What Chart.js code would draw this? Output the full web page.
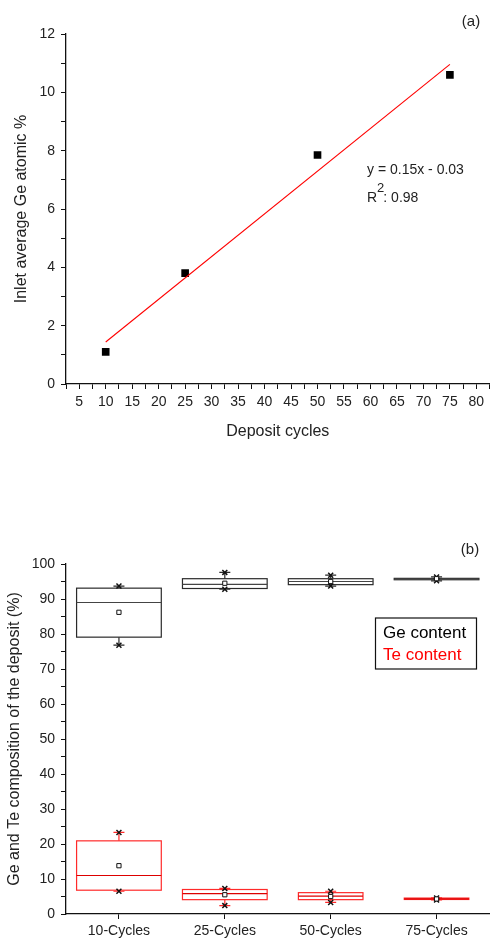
<!DOCTYPE html>
<html>
<head>
<meta charset="utf-8">
<script src="https://cdn.jsdelivr.net/npm/chart.js@4.4.1/dist/chart.umd.min.js"></script>
<style>
html,body{margin:0;padding:0;background:#fff;width:493px;height:941px;overflow:hidden;}
.wrap{position:absolute;left:0;width:495px;}
#wa{top:0;height:450px;}
#wb{top:470px;height:471px;}
</style>
</head>
<body>
<div class="wrap" id="wa"><canvas id="cA" width="495" height="450"></canvas></div>
<div class="wrap" id="wb"><canvas id="cB" width="495" height="471"></canvas></div>
<script>
/* ── data: panel (a) ── */
const cycles=[10,25,50,75];
const geAtomic=[1.1,3.8,7.85,10.6];
const fitX=[10,75];
const fitY=[1.44,10.96];
const fitEq='y = 0.15x - 0.03';
const fitR2='0.98';

/* ── data: panel (b) ── */
const cats=['10-Cycles','25-Cycles','50-Cycles','75-Cycles'];
const geQ1=[79.1,93.0,94.1,95.5];
const geQ3=[93.1,95.8,95.8,95.9];
const geMed=[89.0,94.2,95.0,95.7];
const geMean=[86.2,94.5,95.0,95.8];
const geMin=[76.8,92.8,93.7,95.2];
const geMax=[93.7,97.6,96.8,96.3];
const teQ1=[6.8,4.1,4.1,4.15];
const teQ3=[20.9,7.0,6.1,4.55];
const teMed=[11.0,5.8,5.1,4.35];
const teMean=[13.8,5.5,5.0,4.3];
const teMin=[6.5,2.4,3.3,4.0];
const teMax=[23.3,7.3,6.5,4.6];

const FONT="'Liberation Sans',Arial,sans-serif";
const ink='#222';
Chart.defaults.font.family=FONT;
Chart.defaults.color=ink;
Chart.defaults.animation=false;

function yAxis(min,max,step,every,titleTxt,titlePad){
  return {min,max,border:{color:'#111',width:1.3},
    grid:{drawOnChartArea:false,tickLength:5,color:'#111',tickWidth:1},
    ticks:{stepSize:step,autoSkip:false,padding:6,font:{size:14},color:ink,
      callback:v=>(Math.abs(v%every)<1e-9?v:'')},
    title:{display:true,text:titleTxt,font:{size:16},color:ink,padding:{top:titlePad,bottom:0}},
    afterFit:s=>{s.width=66;}};
}

/* ── (a) linear fit of Ge atomic % ── */
const textA={id:'textA',afterDraw(c){
  const ctx=c.ctx;ctx.save();ctx.fillStyle=ink;ctx.textBaseline='middle';
  ctx.font='15px '+FONT;ctx.textAlign='center';ctx.fillText('(a)',471,22);
  ctx.font='14px '+FONT;ctx.textAlign='left';
  ctx.fillText(fitEq,367,170);
  ctx.fillText('R',367,198);
  const rw=ctx.measureText('R').width;
  ctx.font='13px '+FONT;ctx.fillText('2',367+rw,188);
  const tw=ctx.measureText('2').width;
  ctx.font='14px '+FONT;ctx.fillText(': '+fitR2,367+rw+tw-1,198);
  ctx.restore();
}};
new Chart(document.getElementById('cA'),{
  type:'scatter',
  data:{datasets:[
    {label:'fit',data:fitX.map((x,i)=>({x,y:fitY[i]})),showLine:true,borderColor:'#ff0000',borderWidth:1.1,pointRadius:0},
    {label:'Ge',data:cycles.map((x,i)=>({x,y:geAtomic[i]})),pointStyle:'rect',pointRadius:5.4,backgroundColor:'#000',borderColor:'#000',borderWidth:0}
  ]},
  options:{responsive:false,layout:{padding:{top:34,right:0,left:0,bottom:0}},
    plugins:{legend:{display:false},tooltip:{enabled:false}},
    scales:{
      x:{type:'linear',min:2.5,max:82.5,border:{color:'#111',width:1.3},
        grid:{drawOnChartArea:false,tickLength:5,color:'#111'},
        ticks:{stepSize:2.5,autoSkip:false,maxRotation:0,padding:5,font:{size:14},color:ink,
          callback:v=>(Math.abs(v%5)<1e-9?v:'')},
        title:{display:true,text:'Deposit cycles',font:{size:16},color:ink,padding:{top:0,bottom:9}},
        afterFit:s=>{s.height=66;}},
      y:yAxis(0,12,1,2,'Inlet average Ge atomic %',12)
    }},
  plugins:[textA]
});

/* ── (b) box plots of Ge / Te content ── */
const boxSeries=[
  {q1:geQ1,q3:geQ3,med:geMed,lo:geMin,hi:geMax,col:'#2a2a2a',medCol:'#444',w:[.8,.8,.8,.8]},
  {q1:teQ1,q3:teQ3,med:teMed,lo:teMin,hi:teMax,col:'#ff2a2a',medCol:'#dd0000',w:[.8,.8,.61,.61]}
];
const boxes={id:'boxes',beforeDatasetsDraw(c){
  const {ctx,scales:{x,y}}=c;
  const cw=x.getPixelForValue(1)-x.getPixelForValue(0);
  ctx.save();ctx.lineWidth=1.2;
  boxSeries.forEach(s=>{
    cats.forEach((_,i)=>{
      const cx=x.getPixelForValue(i),hw=s.w[i]*cw/2,cap=5.5;
      const yq1=y.getPixelForValue(s.q1[i]),yq3=y.getPixelForValue(s.q3[i]);
      const ylo=y.getPixelForValue(s.lo[i]),yhi=y.getPixelForValue(s.hi[i]);
      const ym=y.getPixelForValue(s.med[i]);
      ctx.strokeStyle=s.col;
      ctx.beginPath();
      ctx.moveTo(cx,yq3);ctx.lineTo(cx,yhi);
      ctx.moveTo(cx,yq1);ctx.lineTo(cx,ylo);
      ctx.moveTo(cx-cap,yhi);ctx.lineTo(cx+cap,yhi);
      ctx.moveTo(cx-cap,ylo);ctx.lineTo(cx+cap,ylo);
      ctx.stroke();
      ctx.strokeRect(cx-hw,yq3,2*hw,yq1-yq3);
      ctx.strokeStyle=s.medCol;
      ctx.beginPath();ctx.moveTo(cx-hw,ym);ctx.lineTo(cx+hw,ym);ctx.stroke();
    });
  });
  ctx.restore();
}};
const textB={id:'textB',afterDraw(c){
  const ctx=c.ctx;ctx.save();ctx.textBaseline='middle';ctx.fillStyle=ink;
  ctx.font='15px '+FONT;ctx.textAlign='center';ctx.fillText('(b)',470,80);
  ctx.strokeStyle='#111';ctx.lineWidth=1.2;ctx.strokeRect(375.5,148,101,51);
  ctx.font='17px '+FONT;ctx.textAlign='left';
  ctx.fillStyle='#000';ctx.fillText('Ge content',383,163.5);
  ctx.fillStyle='#ff0000';ctx.fillText('Te content',383,185.5);
  ctx.restore();
}};
const meanSet=(d)=>({data:d,showLine:false,pointStyle:'rect',pointRadius:3,pointBorderWidth:1,pointBorderColor:'#111',pointBackgroundColor:'#fff'});
const starSet=(d)=>({data:d,showLine:false,pointStyle:'crossRot',pointRadius:3.5,pointBorderWidth:1.5,pointBorderColor:'#111'});
new Chart(document.getElementById('cB'),{
  type:'line',
  data:{labels:cats,datasets:[
    meanSet(geMean),starSet(geMin),starSet(geMax),
    meanSet(teMean),starSet(teMin),starSet(teMax)
  ]},
  options:{responsive:false,layout:{padding:{top:94,right:0,left:0,bottom:0}},
    plugins:{legend:{display:false},tooltip:{enabled:false}},
    scales:{
      x:{type:'category',offset:true,border:{color:'#111',width:1.3},
        grid:{drawOnChartArea:false,offset:false,tickLength:5,color:'#111'},
        ticks:{autoSkip:false,maxRotation:0,padding:4,font:{size:14},color:ink},
        afterFit:s=>{s.height=27;}},
      y:yAxis(0,100,5,10,'Ge and Te composition of the deposit (%)',5)
    }},
  plugins:[boxes,textB]
});
</script>
</body>
</html>
